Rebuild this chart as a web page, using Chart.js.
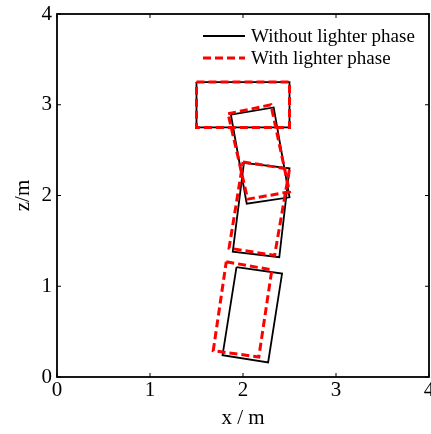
<!DOCTYPE html>
<html>
<head>
<meta charset="utf-8">
<script src="https://cdn.jsdelivr.net/npm/chart.js@4.4.1/dist/chart.umd.min.js"></script>
<style>
  html, body { margin: 0; padding: 0; background: #ffffff; }
  canvas { display: block; }
</style>
</head>
<body>
<canvas id="c" width="431" height="434"></canvas>
<script>
// Series names and axis ticks
const seriesNames = ['Without lighter phase', 'With lighter phase'];
const xTicks = [0, 1, 2, 3, 4];
const zTicks = [0, 1, 2, 3, 4];

// Corner coordinates (m) of the four bodies, each listed TL, TR, BR, BL
const withoutX = [[1.50, 2.50, 2.50, 1.50], [1.87, 2.33, 2.50, 2.04], [2.01, 2.50, 2.39, 1.89], [1.93, 2.42, 2.27, 1.78]];
const withoutZ = [[3.25, 3.25, 2.75, 2.75], [2.89, 2.97, 1.98, 1.91], [2.36, 2.30, 1.32, 1.38], [1.21, 1.14, 0.16, 0.24]];
const withX    = [[1.50, 2.50, 2.50, 1.50], [1.84, 2.30, 2.50, 2.05], [2.00, 2.50, 2.34, 1.85], [1.82, 2.31, 2.17, 1.68]];
const withZ    = [[3.25, 3.25, 2.75, 2.75], [2.90, 3.00, 2.04, 1.96], [2.37, 2.29, 1.34, 1.42], [1.27, 1.18, 0.22, 0.29]];

const SERIF = '"Liberation Serif", "Times New Roman", serif';
const styles = [
  { color: '#000000', width: 1.8, dash: [] },
  { color: '#ff0000', width: 3, dash: [8, 4] }
];

// closed outline from corner lists
function outline(xs, zs) {
  const pts = xs.map((x, i) => ({ x: x, y: zs[i] }));
  pts.push({ x: xs[0], y: zs[0] });
  return pts;
}

const datasets = [];
[[withoutX, withoutZ], [withX, withZ]].forEach(([xs, zs], s) => {
  xs.forEach((bx, k) => {
    datasets.push({
      label: seriesNames[s],
      data: outline(bx, zs[k]),
      showLine: true,
      fill: false,
      borderColor: styles[s].color,
      borderWidth: styles[s].width,
      borderDash: styles[s].dash,
      borderJoinStyle: 'miter',
      pointRadius: 0,
      tension: 0,
      order: s === 0 ? 1 : 0
    });
  });
});

// frame with inward tick marks on all four sides
const framePlugin = {
  id: 'frame',
  afterDatasetsDraw(chart) {
    const { ctx, chartArea: a, scales } = chart;
    ctx.save();
    ctx.strokeStyle = '#000';
    ctx.lineWidth = 1.8;
    ctx.strokeRect(a.left, a.top, a.right - a.left, a.bottom - a.top);
    ctx.lineWidth = 1;
    const tl = 4;
    ctx.beginPath();
    xTicks.forEach(v => {
      const px = scales.x.getPixelForValue(v);
      ctx.moveTo(px, a.bottom); ctx.lineTo(px, a.bottom - tl);
      ctx.moveTo(px, a.top); ctx.lineTo(px, a.top + tl);
    });
    zTicks.forEach(v => {
      const py = scales.y.getPixelForValue(v);
      ctx.moveTo(a.left, py); ctx.lineTo(a.left + tl, py);
      ctx.moveTo(a.right, py); ctx.lineTo(a.right - tl, py);
    });
    ctx.stroke();
    ctx.restore();
  }
};

// legend drawn inside the upper right of the plot
const legendPlugin = {
  id: 'innerLegend',
  afterDraw(chart) {
    const { ctx, chartArea: a } = chart;
    ctx.save();
    ctx.font = '19px ' + SERIF;
    ctx.textBaseline = 'middle';
    ctx.textAlign = 'left';
    seriesNames.forEach((name, i) => {
      const y = a.top + 22 + i * 22;
      const x0 = a.left + 146;
      ctx.strokeStyle = styles[i].color;
      ctx.lineWidth = styles[i].width;
      ctx.setLineDash(styles[i].dash);
      ctx.beginPath();
      ctx.moveTo(x0, y); ctx.lineTo(x0 + 42, y);
      ctx.stroke();
      ctx.setLineDash([]);
      ctx.fillStyle = '#000';
      ctx.fillText(name, x0 + 48, y + 1);
    });
    ctx.restore();
  }
};

new Chart(document.getElementById('c'), {
  type: 'scatter',
  data: { datasets: datasets },
  options: {
    responsive: false,
    animation: false,
    devicePixelRatio: 1,
    layout: { padding: { top: 14, right: 2, left: 0, bottom: 0 } },
    plugins: { legend: { display: false }, tooltip: { enabled: false } },
    scales: {
      x: {
        type: 'linear', min: 0, max: 4,
        afterBuildTicks: s => { s.ticks = xTicks.map(v => ({ value: v })); },
        ticks: { color: '#000', font: { family: SERIF, size: 21 }, padding: 1, maxRotation: 0 },
        grid: { display: false, drawTicks: false },
        border: { display: false },
        title: { display: true, text: 'x / m', color: '#000', font: { family: SERIF, size: 21 }, padding: { top: 0, bottom: 3 } },
        afterFit: s => { s.height = 57; s.paddingLeft = 0; s.paddingRight = 0; }
      },
      y: {
        type: 'linear', min: 0, max: 4,
        afterBuildTicks: s => { s.ticks = zTicks.map(v => ({ value: v })); },
        ticks: { color: '#000', font: { family: SERIF, size: 21 }, padding: 5 },
        grid: { display: false, drawTicks: false },
        border: { display: false },
        title: { display: true, text: 'z/m', color: '#000', font: { family: SERIF, size: 21 }, padding: { top: 11, bottom: 0 } },
        afterFit: s => { s.width = 57; s.paddingTop = 0; s.paddingBottom = 0; }
      }
    }
  },
  plugins: [framePlugin, legendPlugin]
});
</script>
</body>
</html>
